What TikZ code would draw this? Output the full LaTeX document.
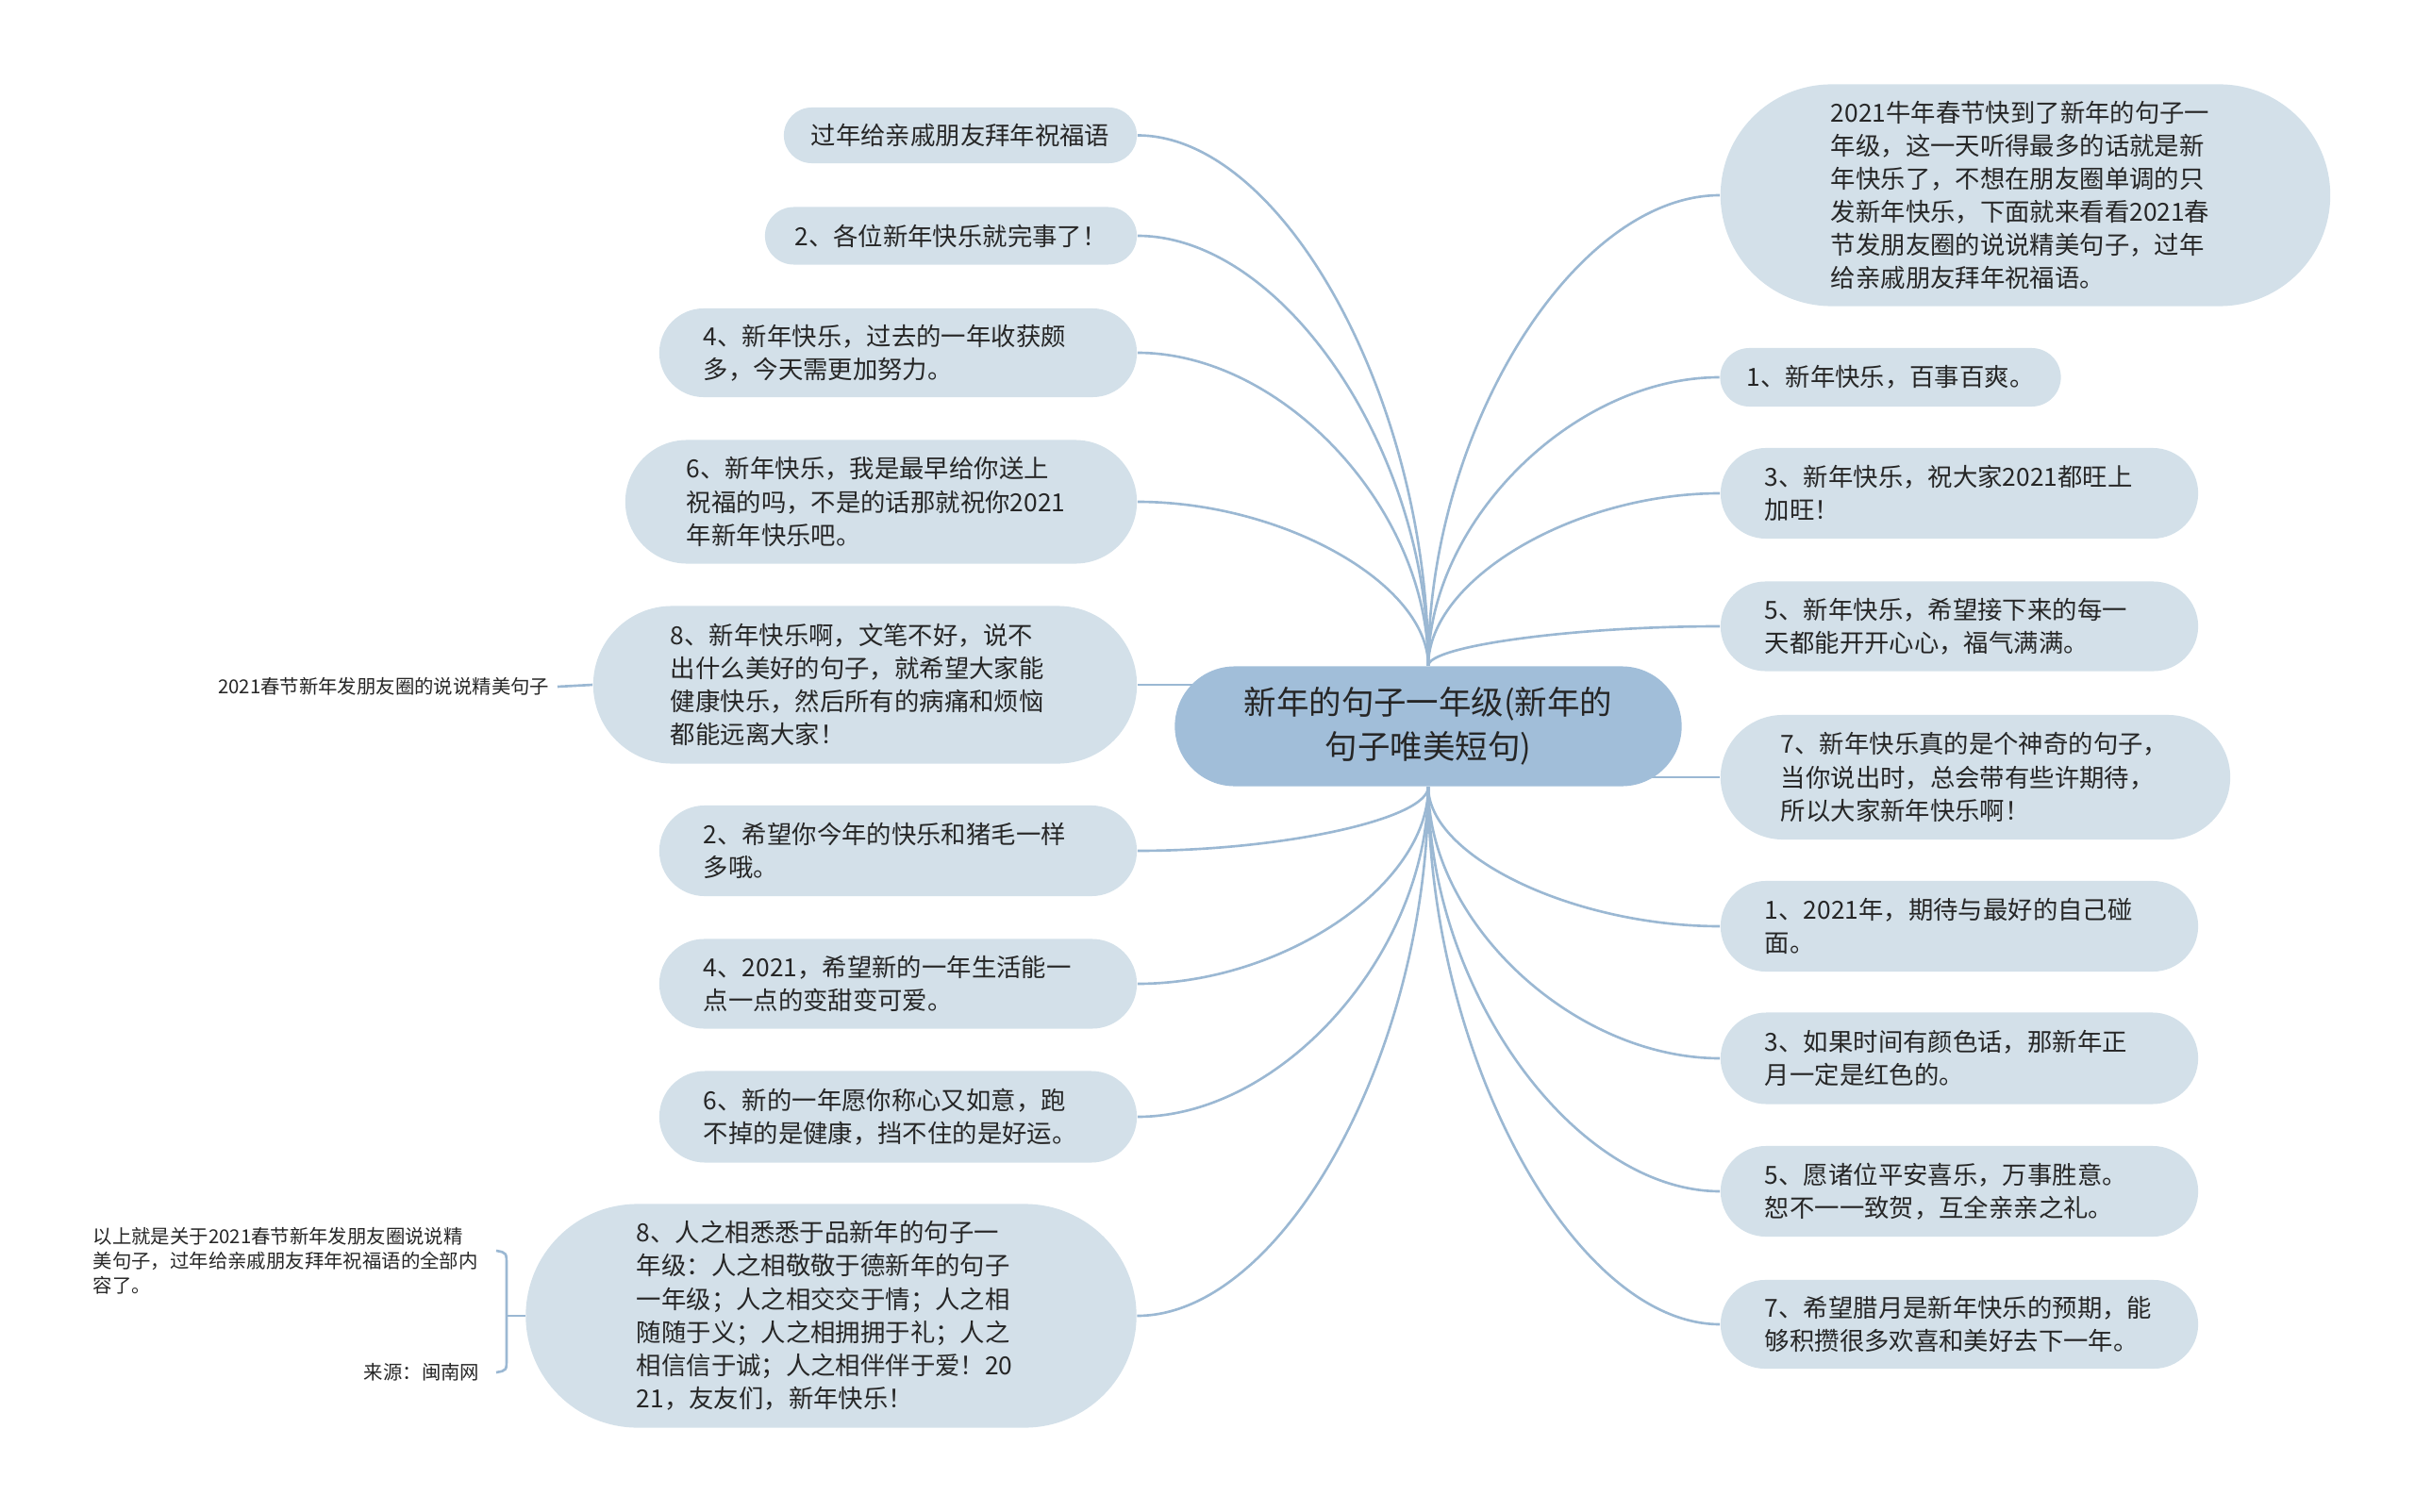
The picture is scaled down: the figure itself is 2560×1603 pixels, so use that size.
\documentclass[tikz,border=0pt]{standalone}
\usepackage{fontspec}
\newfontfamily\hanfont{Noto Sans CJK SC}
\usetikzlibrary{calc,shapes.misc,backgrounds}
\definecolor{leaffill}{RGB}{211,224,233}
\definecolor{rootfill}{RGB}{161,190,217}
\definecolor{linkblue}{RGB}{155,184,211}
\definecolor{inkgray}{RGB}{38,38,38}
\tikzset{
    % Leaf boxes (light blue-grey pills)
    leaf/.style={
        rounded rectangle, fill=leaffill, draw=none,
        inner sep=0pt, text=inkgray, align=center,
        font=\hanfont\fontsize{7.5pt}{10pt}\selectfont
    },
    % Multi-line leaves with a fixed wrap width
    wideleaf/.style={leaf, text width=4.12cm, align=left},
    % Root of the map
    rootnode/.style={
        rounded rectangle, fill=rootfill, draw=none,
        inner sep=0pt, text=inkgray, align=center,
        font=\hanfont\fontsize{9.8pt}{13.4pt}\selectfont
    },
    % Plain notes on the far left
    note/.style={
        inner sep=0pt, text=inkgray,
        font=\hanfont\fontsize{5.8pt}{7.4pt}\selectfont
    }
}
\tikzset{
    % Connectors
    link/.style={line width=0.75pt, linkblue},
}

\begin{document}
\begin{tikzpicture}[x=0.01cm,y=0.01cm]
  \useasboundingbox (0,0) rectangle (2560,-1603);
  % root
  \node[rootnode,minimum width=5.37cm,minimum height=1.27cm] (root) at (1514,-770) {新年的句子一年级(新年的\\句子唯美短句)};
  % left branch
  \node[leaf,minimum width=3.74cm,minimum height=0.59cm] (l1) at (1018,-143.5) {过年给亲戚朋友拜年祝福语};
  \node[leaf,minimum width=3.94cm,minimum height=0.61cm] (l2) at (1008,-250) {2、各位新年快乐就完事了！};
  \node[wideleaf,minimum width=5.06cm,minimum height=0.94cm] (l3) at (952,-374) {4、新年快乐，过去的一年收获颇\\多，今天需更加努力。};
  \node[wideleaf,minimum width=5.42cm,minimum height=1.31cm] (l4) at (934,-532) {6、新年快乐，我是最早给你送上\\祝福的吗，不是的话那就祝你2021\\年新年快乐吧。};
  \node[wideleaf,minimum width=5.76cm,minimum height=1.67cm] (l5) at (917,-726) {8、新年快乐啊，文笔不好，说不\\出什么美好的句子，就希望大家能\\健康快乐，然后所有的病痛和烦恼\\都能远离大家！};
  \node[wideleaf,minimum width=5.06cm,minimum height=0.96cm] (l6) at (952,-902) {2、希望你今年的快乐和猪毛一样\\多哦。};
  \node[wideleaf,minimum width=5.06cm,minimum height=0.95cm] (l7) at (952,-1043) {4、2021，希望新的一年生活能一\\点一点的变甜变可爱。};
  \node[wideleaf,minimum width=5.06cm,minimum height=0.97cm] (l8) at (952,-1184) {6、新的一年愿你称心又如意，跑\\不掉的是健康，挡不住的是好运。};
  \node[wideleaf,minimum width=6.47cm,minimum height=2.37cm] (l9) at (881,-1395) {8、人之相悉悉于品新年的句子一\\年级：人之相敬敬于德新年的句子\\一年级；人之相交交于情；人之相\\随随于义；人之相拥拥于礼；人之\\相信信于诚；人之相伴伴于爱！20\\21，友友们，新年快乐！};
  % right branch
  \node[wideleaf,minimum width=6.46cm,minimum height=2.35cm] (r1) at (2147,-207) {2021牛年春节快到了新年的句子一\\年级，这一天听得最多的话就是新\\年快乐了，不想在朋友圈单调的只\\发新年快乐，下面就来看看2021春\\节发朋友圈的说说精美句子，过年\\给亲戚朋友拜年祝福语。};
  \node[leaf,minimum width=3.61cm,minimum height=0.62cm] (r2) at (2004,-400) {1、新年快乐，百事百爽。};
  \node[wideleaf,minimum width=5.06cm,minimum height=0.96cm] (r3) at (2077,-523) {3、新年快乐，祝大家2021都旺上\\加旺！};
  \node[wideleaf,minimum width=5.06cm,minimum height=0.95cm] (r4) at (2077,-664) {5、新年快乐，希望接下来的每一\\天都能开开心心，福气满满。};
  \node[wideleaf,minimum width=5.40cm,minimum height=1.32cm] (r5) at (2094,-824) {7、新年快乐真的是个神奇的句子，\\当你说出时，总会带有些许期待，\\所以大家新年快乐啊！};
  \node[wideleaf,minimum width=5.06cm,minimum height=0.96cm] (r6) at (2077,-982) {1、2021年，期待与最好的自己碰\\面。};
  \node[wideleaf,minimum width=5.06cm,minimum height=0.97cm] (r7) at (2077,-1122) {3、如果时间有颜色话，那新年正\\月一定是红色的。};
  \node[wideleaf,minimum width=5.06cm,minimum height=0.96cm] (r8) at (2077,-1263) {5、愿诸位平安喜乐，万事胜意。\\恕不一一致贺，互全亲亲之礼。};
  \node[wideleaf,minimum width=5.06cm,minimum height=0.94cm] (r9) at (2077,-1404) {7、希望腊月是新年快乐的预期，能\\够积攒很多欢喜和美好去下一年。};
  % far-left notes
  \node[note,anchor=east] (tag) at (583,-728) {2021春节新年发朋友圈的说说精美句子};
  \node[note,anchor=west,text width=4.2cm,align=left] (summary) at (98,-1337) {以上就是关于2021春节新年发朋友圈说说精\\美句子，过年给亲戚朋友拜年祝福语的全部内\\容了。};
  \node[note,anchor=east] (source) at (509,-1455) {来源：闽南网};
  \coordinate (bracetop) at (526,-1326);
  \coordinate (bracebot) at (526,-1455);
  \coordinate (fork) at (537,-1395);

  \begin{scope}[on background layer]
    \foreach \n in {l1,l2,l3,l4}
      \draw[link] (root.north) .. controls ($(root.north)!0.5!(root.north |- \n.east)$) and ($(\n.east)!0.5!(root.north |- \n.east)$) .. (\n.east);
    \foreach \n in {l6,l7,l8,l9}
      \draw[link] (root.south) .. controls ($(root.south)!0.5!(root.south |- \n.east)$) and ($(\n.east)!0.5!(root.south |- \n.east)$) .. (\n.east);
    \foreach \n in {r1,r2,r3,r4}
      \draw[link] (root.north) .. controls ($(root.north)!0.5!(root.north |- \n.west)$) and ($(\n.west)!0.5!(root.north |- \n.west)$) .. (\n.west);
    \foreach \n in {r6,r7,r8,r9}
      \draw[link] (root.south) .. controls ($(root.south)!0.5!(root.south |- \n.west)$) and ($(\n.west)!0.5!(root.south |- \n.west)$) .. (\n.west);
    \draw[link] (l5.east) -- (l5.east -| root.center);
    \draw[link] (r5.west) -- (r5.west -| root.center);
    \draw[link] (tag.east) ++(8,0) -- (l5.west);
    \draw[link] (bracetop) .. controls (537,-1328) .. (537,-1342) -- (537,-1440) .. controls (537,-1453) .. (bracebot);
    \draw[link] (fork) -- (l9.west);
  \end{scope}
\end{tikzpicture}
\end{document}
